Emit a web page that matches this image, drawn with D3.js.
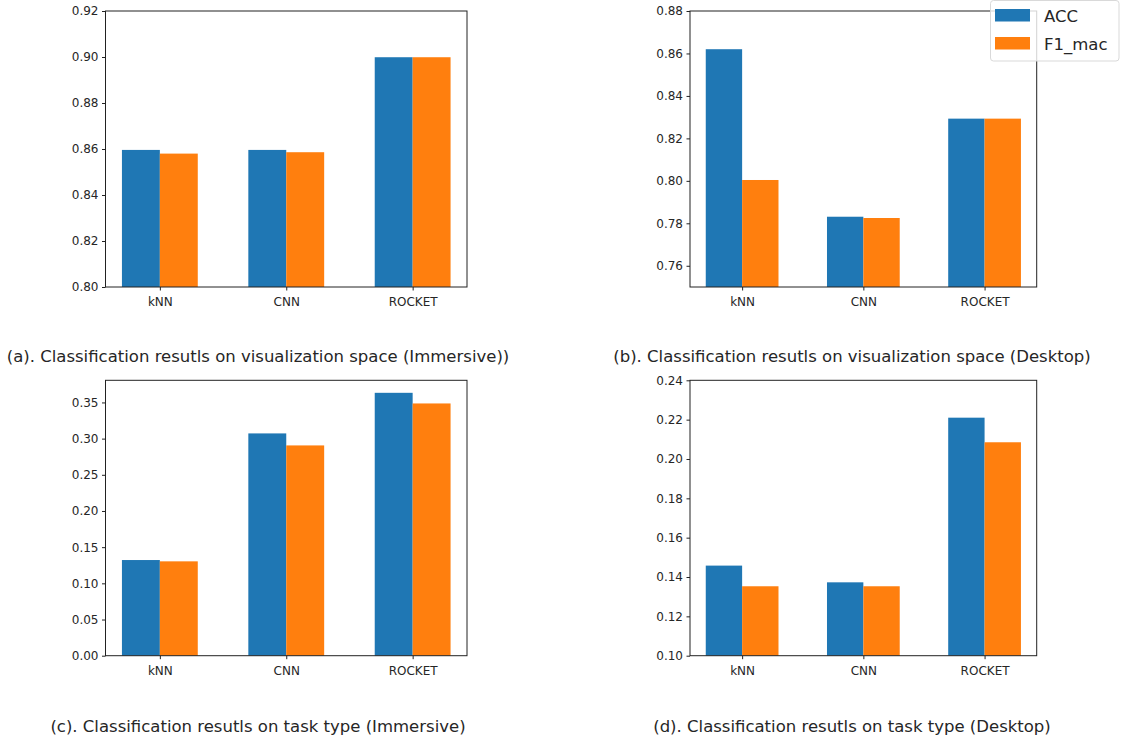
<!DOCTYPE html>
<html>
<head>
<meta charset="utf-8">
<script src="https://cdn.jsdelivr.net/npm/d3@7/dist/d3.min.js"></script>
<style>
  html, body { margin: 0; padding: 0; background: #fff; }
  svg { display: block; }
  text { font-family: "DejaVu Sans", sans-serif; }
</style>
</head>
<body>
<svg id="chart" width="1145" height="741"></svg>
<script>
// ---- data ----
const categories = ["kNN", "CNN", "ROCKET"];
const seriesNames = ["ACC", "F1_mac"];
const colors = ["#1f77b4", "#ff7f0e"];

const accA = [0.8596, 0.8596, 0.8999];
const f1A  = [0.8580, 0.8586, 0.8999];
const accB = [0.8620, 0.7831, 0.8293];
const f1B  = [0.8004, 0.7825, 0.8293];
const accC = [0.1322, 0.3072, 0.3633];
const f1C  = [0.1304, 0.2906, 0.3486];
const accD = [0.1458, 0.1373, 0.2210];
const f1D  = [0.1353, 0.1353, 0.2085];

const ticksA = [0.80, 0.82, 0.84, 0.86, 0.88, 0.90, 0.92];
const ticksB = [0.76, 0.78, 0.80, 0.82, 0.84, 0.86, 0.88];
const ticksC = [0.00, 0.05, 0.10, 0.15, 0.20, 0.25, 0.30, 0.35];
const ticksD = [0.10, 0.12, 0.14, 0.16, 0.18, 0.20, 0.22, 0.24];

const titles = [
  "(a). Classification resutls on visualization space (Immersive))",
  "(b). Classification resutls on visualization space (Desktop)",
  "(c). Classification resutls on task type (Immersive)",
  "(d). Classification resutls on task type (Desktop)"
];

const barWidth = 0.3;

// ---- layout ----
const panels = [
  { acc: accA, f1: f1A, ticks: ticksA, ydom: [0.80, 0.92], x0: 105.5, x1: 467,   y0: 11,    y1: 287,   title: titles[0], tx: 258, ty: 362 },
  { acc: accB, f1: f1B, ticks: ticksB, ydom: [0.75, 0.88], x0: 690,   x1: 1036.7, y0: 11,    y1: 287,   title: titles[1], tx: 852, ty: 362 },
  { acc: accC, f1: f1C, ticks: ticksC, ydom: [0.00, 0.3806], x0: 105.5, x1: 467,  y0: 380.3, y1: 655.7, title: titles[2], tx: 258, ty: 732 },
  { acc: accD, f1: f1D, ticks: ticksD, ydom: [0.10, 0.24], x0: 690,   x1: 1036.7, y0: 380.3, y1: 655.7, title: titles[3], tx: 852, ty: 732 }
];

const svg = d3.select("#chart");
const fmt = d3.format(".2f");

panels.forEach(p => {
  const x = d3.scaleLinear().domain([-0.43, 2.43]).range([p.x0, p.x1]);
  const y = d3.scaleLinear().domain(p.ydom).range([p.y1, p.y0]);
  const g = svg.append("g");

  const series = [p.acc, p.f1];
  series.forEach((vals, s) => {
    g.selectAll(null).data(vals).enter().append("rect")
      .attr("x", (d, i) => x(i - barWidth + s * barWidth))
      .attr("width", (d, i) => x(i + s * barWidth) - x(i - barWidth + s * barWidth))
      .attr("y", d => y(d))
      .attr("height", d => y(p.ydom[0]) - y(d))
      .attr("fill", colors[s]);
  });

  // y axis
  const yAxis = d3.axisLeft(y).tickValues(p.ticks).tickFormat(fmt).tickSize(3.5).tickPadding(3.5);
  const ya = g.append("g").attr("transform", `translate(${p.x0},0)`).call(yAxis);
  ya.select(".domain").remove();
  ya.selectAll("line").attr("stroke", "#222");
  ya.selectAll("text").attr("font-size", 12).attr("fill", "#262626")
    .attr("font-family", "DejaVu Sans, sans-serif");

  // x axis
  const xAxis = d3.axisBottom(x).tickValues([0, 1, 2]).tickFormat(i => categories[i]).tickSize(3.5).tickPadding(7);
  const xa = g.append("g").attr("transform", `translate(0,${p.y1})`).call(xAxis);
  xa.select(".domain").remove();
  xa.selectAll("line").attr("stroke", "#222");
  xa.selectAll("text").attr("font-size", 12).attr("fill", "#262626")
    .attr("font-family", "DejaVu Sans, sans-serif");

  // frame
  g.append("rect")
    .attr("x", p.x0).attr("y", p.y0)
    .attr("width", p.x1 - p.x0).attr("height", p.y1 - p.y0)
    .attr("fill", "none").attr("stroke", "#222").attr("stroke-width", 1);

  // title
  svg.append("text")
    .attr("x", p.tx).attr("y", p.ty)
    .attr("text-anchor", "middle")
    .attr("font-size", 16.5)
    .attr("fill", "#262626")
    .text(p.title);
});

// legend
const lg = svg.append("g");
lg.append("rect")
  .attr("x", 990.5).attr("y", 0.5).attr("width", 128.5).attr("height", 60.5)
  .attr("rx", 3).attr("ry", 3)
  .attr("fill", "#fff").attr("fill-opacity", 0.8)
  .attr("stroke", "#d9d9d9").attr("stroke-width", 1);
seriesNames.forEach((name, s) => {
  lg.append("rect")
    .attr("x", 995).attr("y", 9 + s * 28).attr("width", 35).attr("height", 12.5)
    .attr("fill", colors[s]);
  lg.append("text")
    .attr("x", 1044).attr("y", 21.5 + s * 28)
    .attr("font-size", 16.5).attr("fill", "#262626")
    .text(name);
});
</script>
</body>
</html>
